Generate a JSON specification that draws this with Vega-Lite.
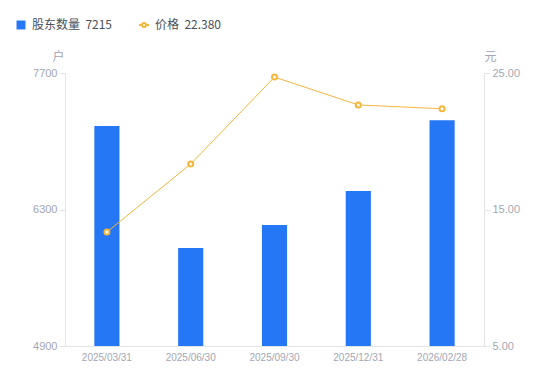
{
  "$schema": "https://vega.github.io/schema/vega-lite/v6.json",
  "width": 419,
  "height": 273,
  "autosize": {"type": "none"},
  "padding": {"left": 65, "top": 73, "right": 66, "bottom": 35},
  "background": "white",
  "config": {
    "font": "Noto Sans CJK SC",
    "view": {"stroke": null},
    "axis": {"labelFont": "Liberation Sans", "labelColor": "#a3a6b4", "labelFontSize": 11, "titleFont": "Noto Sans CJK SC", "titleColor": "#a3a6b4", "titleFontSize": 12, "titleFontWeight": "normal", "domainColor": "#e3e4e8", "tickColor": "#e3e4e8", "grid": false}
  },
  "data": {
    "values": [
      {"date": "2025/03/31", "holders": 7156, "price": 13.35},
      {"date": "2025/06/30", "holders": 5905, "price": 18.33},
      {"date": "2025/09/30", "holders": 6141, "price": 24.7},
      {"date": "2025/12/31", "holders": 6490, "price": 22.66},
      {"date": "2026/02/28", "holders": 7215, "price": 22.38}
    ]
  },
  "encoding": {
    "x": {"field": "date", "type": "ordinal", "sort": null, "scale": {"paddingInner": 0.7, "paddingOuter": 0.35},
      "axis": {"title": null, "labelAngle": 0, "ticks": false, "labelPadding": 6, "labelFontSize": 10}}
  },
  "layer": [
    {
      "mark": {"type": "bar", "color": "#2677f5", "clip": true},
      "encoding": {
        "y": {"field": "holders", "type": "quantitative", "scale": {"domain": [4900, 7700], "nice": false, "zero": false},
          "axis": {"title": "户", "values": [4900, 6300, 7700], "format": "d", "tickSize": 6, "labelPadding": 2, "titleAngle": 0, "titleX": -7, "titleY": -10, "titleAlign": "center", "titleBaseline": "bottom"}},
        "fill": {"datum": "股东数量", "type": "nominal", "scale": {"domain": ["股东数量"], "range": ["#2677f5"]},
          "legend": {"orient": "none", "legendX": -50, "legendY": -54, "title": null, "symbolType": "square", "symbolSize": 80, "labelOffset": 5, "labelExpr": "datum.label + '\u00a0\u00a07215'", "labelFontSize": 12, "labelColor": "#4a4f5a", "labelFont": "Noto Sans CJK SC"}}
      }
    },
    {
      "mark": {"type": "line", "color": "#f5b63c", "strokeWidth": 1, "point": {"filled": true, "fill": "white", "stroke": "#f5b63c", "strokeWidth": 2, "size": 25}},
      "encoding": {
        "y": {"field": "price", "type": "quantitative", "scale": {"domain": [5, 25], "nice": false, "zero": false},
          "axis": {"orient": "right", "title": "元", "values": [5, 15, 25], "format": ".2f", "tickSize": 6, "labelPadding": 2, "titleAngle": 0, "titleX": 6, "titleY": -10, "titleAlign": "center", "titleBaseline": "bottom"}},
        "stroke": {"datum": "价格", "type": "nominal", "scale": {"domain": ["价格"], "range": ["#f5b63c"]},
          "legend": {"orient": "none", "legendX": 73, "legendY": -54, "title": null, "symbolType": "M-1,0L-0.4,0M0.4,0L1,0M-0.4,0A0.4,0.4 0 1,0 0.4,0A0.4,0.4 0 1,0 -0.4,0Z", "symbolSize": 100, "symbolStrokeWidth": 2, "symbolFillColor": "white", "labelOffset": 5, "labelExpr": "datum.label + '\u00a0\u00a022.380'", "labelFontSize": 12, "labelColor": "#4a4f5a", "labelFont": "Noto Sans CJK SC"}}
      }
    }
  ],
  "resolve": {"scale": {"y": "independent"}}
}
